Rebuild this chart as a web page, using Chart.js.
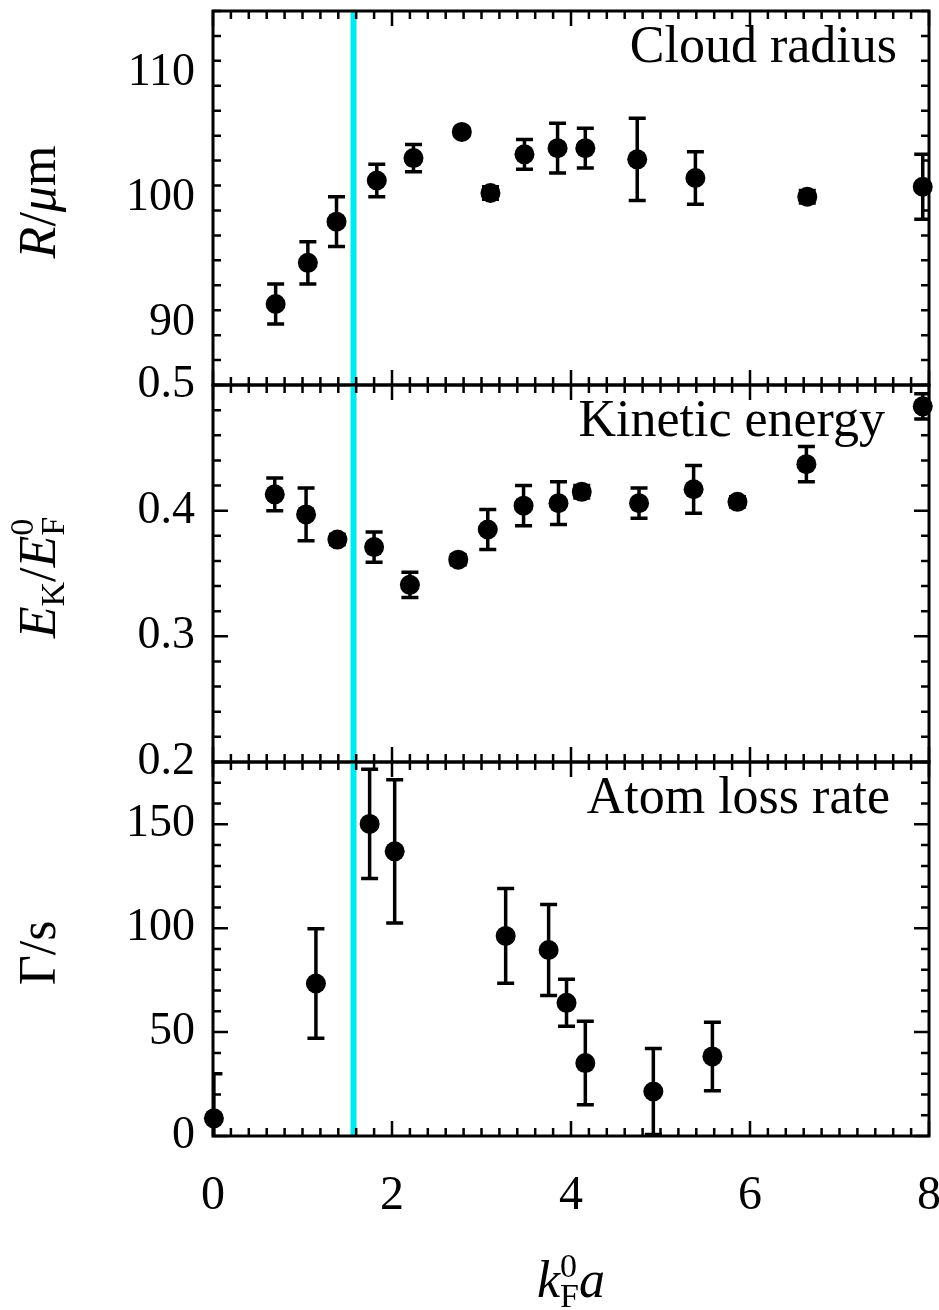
<!DOCTYPE html>
<html>
<head>
<meta charset="utf-8">
<script src="https://cdn.jsdelivr.net/npm/chart.js@4.4.0/dist/chart.umd.min.js"></script>
<style>
  html, body { margin: 0; padding: 0; background: #fff; }
  body { width: 939px; height: 1310px; position: relative; overflow: hidden; }
  canvas { position: absolute; left: 0; }
</style>
</head>
<body>
<canvas id="radiusChart" width="980" height="534" style="top:-69px"></canvas>
<canvas id="energyChart" width="980" height="537" style="top:305px"></canvas>
<canvas id="lossChart" width="980" height="628" style="top:682px"></canvas>
<script>
// values (x = k_F^0 a)
const radiusX   = [0.70, 1.06, 1.38, 1.83, 2.24, 2.78, 3.10, 3.48, 3.85, 4.16, 4.74, 5.39, 6.64, 7.93];
const radiusY   = [91.5, 94.8, 98.1, 101.4, 103.2, 105.3, 100.4, 103.5, 104.0, 104.0, 103.1, 101.6, 100.1, 100.9];
const radiusErr = [1.6, 1.7, 2.0, 1.3, 1.1, 0.3, 0.5, 1.2, 2.0, 1.6, 3.3, 2.1, 0.5, 2.6];

const energyX   = [0.69, 1.04, 1.39, 1.80, 2.20, 2.74, 3.07, 3.47, 3.86, 4.12, 4.76, 5.37, 5.86, 6.63, 7.93];
const energyY   = [0.413, 0.397, 0.377, 0.371, 0.341, 0.361, 0.385, 0.404, 0.406, 0.415, 0.406, 0.417, 0.407, 0.437, 0.483];
const energyErr = [0.013, 0.021, 0.004, 0.012, 0.010, 0.004, 0.016, 0.016, 0.017, 0.005, 0.012, 0.019, 0.004, 0.014, 0.010];

const lossX   = [0.01, 1.15, 1.75, 2.03, 3.27, 3.75, 3.95, 4.16, 4.92, 5.58];
const lossY   = [8.5, 73.4, 150.2, 137.0, 96.3, 89.5, 64.1, 35.1, 21.4, 38.3];
const lossErr = [21.5, 26.4, 26.3, 34.5, 22.8, 21.9, 11.3, 20.1, 20.7, 16.5];

const xTicks      = [0, 2, 4, 6, 8];
const radiusTicks = [90, 100, 110];
const energyTicks = [0.2, 0.3, 0.4, 0.5];
const lossTicks   = [0, 50, 100, 150];
const unitarityX  = 1.57;

const SERIF = 'Liberation Serif';
const big = s => s + 'px "' + SERIF + '"';
const ital = s => 'italic ' + s + 'px "' + SERIF + '"';

const yTitles = {
  radius: [['R', ital(52)], ['/', big(52)], ['\u03bc', ital(52)], ['m', big(52)]],
  energy: [['E', ital(52)], ['K', big(34), 9], ['/', big(52)], ['E', ital(52)],
           ['F', big(34), 9, true], ['0', big(34), -22]],
  loss:   [['\u0393', big(52)], ['/', big(52)], ['s', big(52)]]
};
const xTitle = [['k', ital(52)], ['F', big(34), 10, true], ['0', big(34), -20], ['a', ital(52)]];

function richText(ctx, parts, x, y, rotate) {
  let w = 0, pend = 0;
  parts.forEach(p => {
    ctx.font = p[1];
    const pw = ctx.measureText(p[0]).width;
    if (p[3]) { pend = pw; } else { w += Math.max(pw, pend); pend = 0; }
  });
  ctx.save();
  ctx.translate(x, y);
  if (rotate) ctx.rotate(-Math.PI / 2);
  ctx.fillStyle = '#000';
  ctx.textBaseline = 'alphabetic';
  ctx.textAlign = 'left';
  let cx = -w / 2; pend = 0;
  parts.forEach(p => {
    ctx.font = p[1];
    ctx.fillText(p[0], cx, p[2] || 0);
    const pw = ctx.measureText(p[0]).width;
    if (p[3]) { pend = pw; } else { cx += Math.max(pw, pend); pend = 0; }
  });
  ctx.restore();
}

const framePlugin = {
  id: 'frame',
  beforeDatasetsDraw(chart) {
    const { ctx, chartArea: a, scales: { x, y } } = chart;
    ctx.save();
    // unitarity line
    const ux = x.getPixelForValue(unitarityX);
    ctx.strokeStyle = '#00e8f0';
    ctx.lineWidth = 6;
    ctx.beginPath(); ctx.moveTo(ux, a.top); ctx.lineTo(ux, a.bottom); ctx.stroke();
    // error bars
    ctx.beginPath(); ctx.rect(a.left, a.top, a.right - a.left, a.bottom - a.top); ctx.clip();
    ctx.strokeStyle = '#000';
    ctx.lineWidth = 3.5;
    const ds = chart.data.datasets[0];
    ds.data.forEach((p, i) => {
      const e = ds.err[i];
      if (!e) return;
      const px = x.getPixelForValue(p.x);
      const lo = y.getPixelForValue(p.y - e), hi = y.getPixelForValue(p.y + e);
      ctx.beginPath();
      ctx.moveTo(px, lo); ctx.lineTo(px, hi);
      ctx.moveTo(px - 8.5, lo); ctx.lineTo(px + 8.5, lo);
      ctx.moveTo(px - 8.5, hi); ctx.lineTo(px + 8.5, hi);
      ctx.stroke();
    });
    ctx.restore();
  },
  afterDraw(chart, args, o) {
    const { ctx, chartArea: a, scales: { x, y } } = chart;
    ctx.save();
    ctx.strokeStyle = '#000';
    ctx.lineWidth = 2.5;
    ctx.beginPath();
    // x ticks, top and bottom, inward
    for (let k = 0; k <= 40; k++) {
      const px = x.getPixelForValue(k * 0.2);
      const len = k % 10 === 0 ? 15 : 8;
      ctx.moveTo(px, a.top); ctx.lineTo(px, a.top + len);
      ctx.moveTo(px, a.bottom); ctx.lineTo(px, a.bottom - len);
    }
    // y ticks, left and right, inward
    const n = Math.round((y.max - y.min) / o.minor);
    for (let k = 0; k <= n; k++) {
      const v = y.min + k * o.minor;
      const ratio = v / o.major;
      const major = Math.abs(ratio - Math.round(ratio)) < 1e-6;
      const len = major ? 15 : 8;
      const py = y.getPixelForValue(v);
      ctx.moveTo(a.left, py); ctx.lineTo(a.left + len, py);
      ctx.moveTo(a.right, py); ctx.lineTo(a.right - len, py);
    }
    ctx.stroke();
    ctx.lineWidth = 3;
    ctx.strokeRect(a.left, a.top, a.right - a.left, a.bottom - a.top);
    // panel label
    ctx.fillStyle = '#000';
    ctx.font = big(52);
    ctx.textAlign = 'right';
    ctx.textBaseline = 'alphabetic';
    ctx.fillText(o.label, a.right - o.labelRight, a.top + 51);
    ctx.restore();
    // axis titles
    richText(ctx, yTitles[o.key], 55, (a.top + a.bottom) / 2 + 4, true);
    if (o.key === 'loss') richText(ctx, xTitle, (a.left + a.right) / 2, a.bottom + 161, false);
  }
};

function makeChart(id, key, label, labelRight, xs, ys, errs, yMin, yMax, yTicks, minor, major, showX) {
  const padding = showX ? { top: 80, bottom: 0, left: 0, right: 51 } : { top: 80, bottom: 80, left: 0, right: 51 };
  const ds = {
    data: xs.map((v, i) => ({ x: v, y: ys[i] })),
    pointRadius: 10,
    pointHoverRadius: 10,
    backgroundColor: '#000',
    borderWidth: 0,
    clip: false
  };
  ds.err = errs;
  return new Chart(document.getElementById(id), {
    type: 'scatter',
    data: { datasets: [ds] },
    options: {
      responsive: false,
      animation: false,
      layout: { padding },
      plugins: {
        legend: { display: false },
        tooltip: { enabled: false },
        frame: { key, label, labelRight, minor, major }
      },
      scales: {
        x: {
          type: 'linear',
          min: 0,
          max: 8,
          display: showX,
          afterBuildTicks: s => { s.ticks = xTicks.map(v => ({ value: v })); },
          afterFit: s => { if (showX) s.height = 174; },
          grid: { display: false, drawTicks: false },
          border: { display: false },
          ticks: { color: '#000', font: { family: SERIF, size: 48 }, padding: 32 }
        },
        y: {
          min: yMin,
          max: yMax,
          afterBuildTicks: s => { s.ticks = yTicks.map(v => ({ value: v })); },
          afterFit: s => { s.width = 213; },
          grid: { display: false, drawTicks: false },
          border: { display: false },
          ticks: { color: '#000', font: { family: SERIF, size: 46 }, padding: 18 }
        }
      }
    },
    plugins: [framePlugin]
  });
}

makeChart('radiusChart', 'radius', 'Cloud radius', 32, radiusX, radiusY, radiusErr, 85, 115, radiusTicks, 2, 10, false);
makeChart('energyChart', 'energy', 'Kinetic energy', 44, energyX, energyY, energyErr, 0.2, 0.5, energyTicks, 0.02, 0.1, false);
makeChart('lossChart', 'loss', 'Atom loss rate', 39, lossX, lossY, lossErr, 0, 180, lossTicks, 10, 50, true);
</script>
</body>
</html>
